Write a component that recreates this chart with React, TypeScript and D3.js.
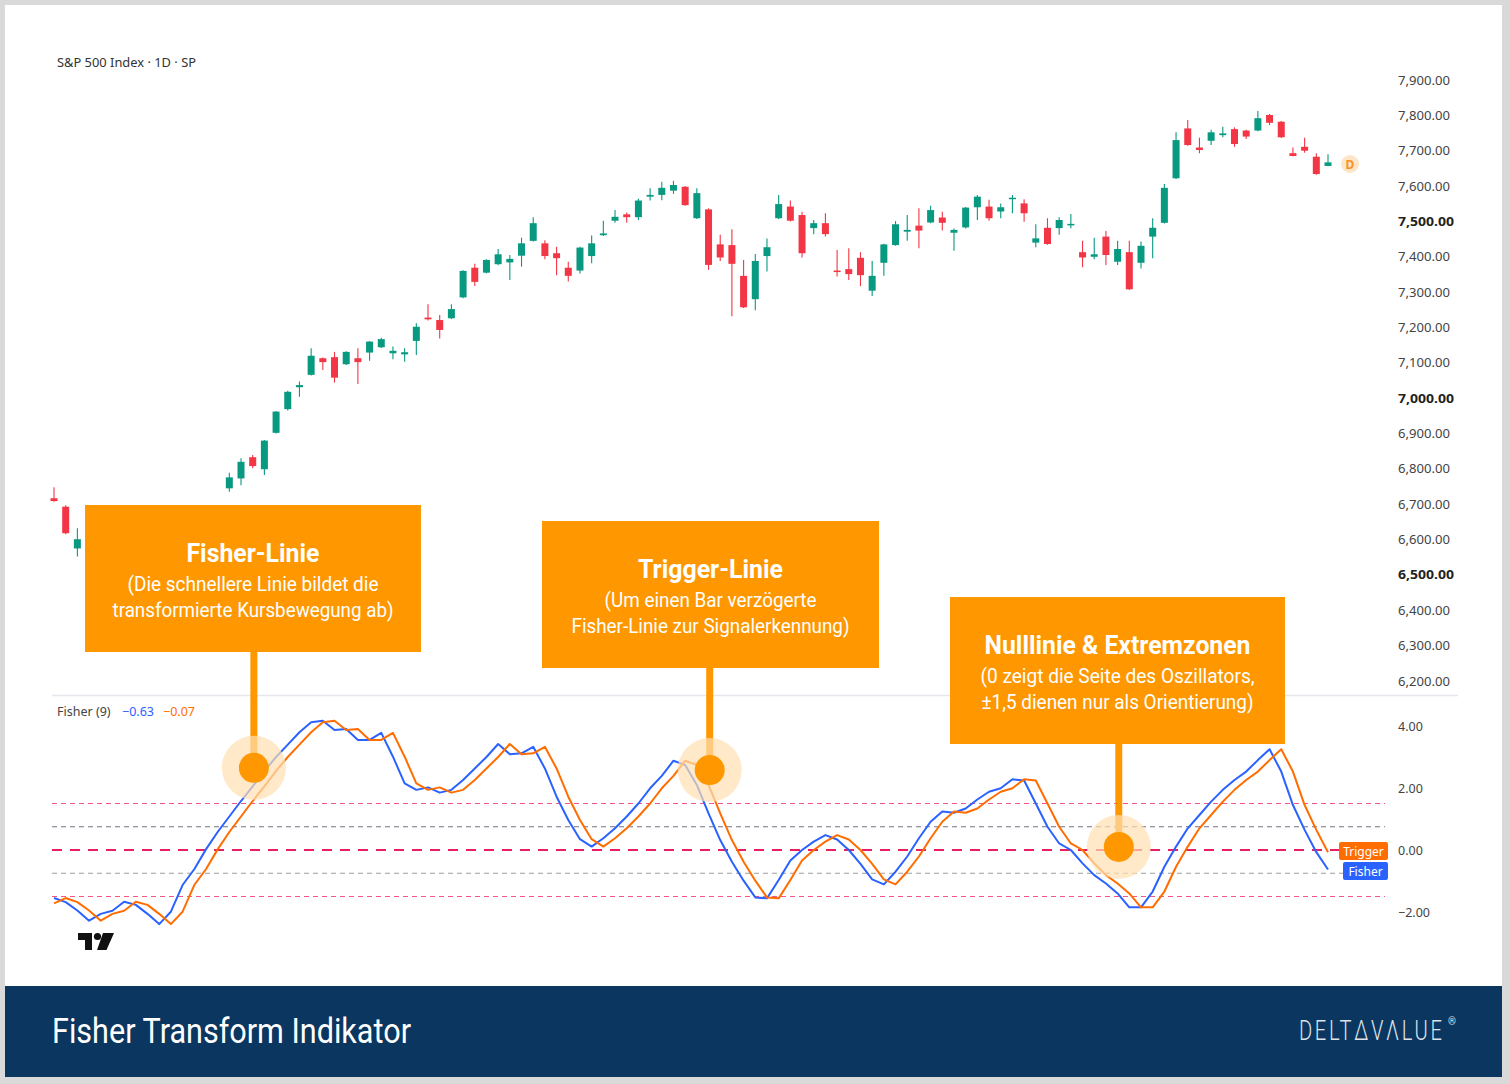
import React from 'react';
import * as d3 from 'd3';

// ---------- DATA ----------
const candleOpen = [6717,6693,6575,6598,6560,6585,6610,6630,6590,6545,6520,6575,6630,6660,6640,6745,6773,6833,6799,6902,6969,7031,7066,7113,7116,7096,7113,7129,7144,7127,7124,7162,7228,7221,7226,7285,7369,7355,7379,7384,7403,7445,7438,7410,7369,7361,7402,7461,7502,7520,7512,7570,7575,7587,7598,7509,7534,7435,7433,7346,7280,7402,7509,7542,7518,7481,7495,7361,7365,7397,7304,7383,7433,7471,7488,7497,7511,7468,7483,7540,7542,7528,7563,7551,7440,7482,7481,7489,7413,7400,7457,7386,7413,7383,7457,7496,7622,7763,7709,7728,7744,7761,7757,7757,7801,7782,7693,7711,7683,7657];
const candleHigh = [6748,6697,6632,6615,6600,6625,6650,6640,6600,6560,6590,6640,6675,6680,6688,6789,6830,6839,6882,6964,7021,7047,7141,7115,7131,7133,7141,7162,7171,7146,7141,7212,7266,7235,7266,7362,7380,7393,7422,7405,7454,7512,7447,7428,7386,7428,7460,7502,7532,7525,7564,7594,7612,7615,7600,7594,7537,7462,7478,7391,7408,7452,7575,7559,7527,7504,7523,7419,7424,7413,7388,7437,7501,7518,7537,7544,7527,7480,7541,7575,7561,7551,7575,7563,7492,7509,7512,7521,7445,7454,7473,7445,7445,7443,7509,7606,7752,7787,7737,7759,7768,7766,7759,7812,7804,7784,7709,7737,7693,7690];
const candleLow = [6707,6615,6552,6545,6540,6570,6595,6575,6530,6480,6505,6560,6615,6625,6630,6735,6754,6802,6783,6900,6965,7004,7064,7080,7044,7094,7040,7106,7142,7110,7103,7122,7220,7169,7224,7283,7317,7353,7376,7334,7372,7443,7393,7348,7330,7353,7382,7459,7496,7496,7504,7559,7560,7578,7544,7507,7363,7388,7232,7255,7249,7358,7507,7500,7398,7464,7457,7344,7334,7317,7289,7346,7431,7445,7424,7495,7474,7417,7480,7504,7502,7509,7523,7499,7427,7434,7462,7481,7370,7393,7377,7377,7306,7367,7396,7494,7620,7714,7693,7716,7738,7711,7733,7755,7773,7736,7684,7694,7632,7656];
const candleClose = [6709,6618,6601,6560,6585,6610,6630,6590,6545,6520,6575,6630,6660,6640,6680,6776,6820,6808,6880,6962,7018,7037,7120,7102,7058,7131,7102,7160,7167,7134,7130,7202,7223,7193,7252,7360,7329,7391,7407,7394,7438,7495,7402,7396,7346,7426,7438,7466,7513,7512,7559,7575,7595,7603,7546,7580,7377,7398,7380,7257,7388,7427,7549,7502,7410,7495,7464,7359,7351,7348,7346,7435,7492,7476,7474,7532,7496,7476,7539,7570,7509,7540,7567,7523,7452,7436,7504,7493,7398,7407,7405,7422,7308,7431,7482,7595,7730,7716,7702,7752,7749,7719,7740,7792,7779,7738,7685,7700,7634,7667];

const fisherValues = [-1.55,-1.68,-1.95,-2.28,-2.06,-1.96,-1.67,-1.77,-2.06,-2.39,-1.99,-1.13,-0.62,0.02,0.58,1.08,1.58,2.05,2.55,3.0,3.4,3.8,4.12,4.17,3.87,3.9,3.55,3.55,3.78,3.01,2.15,1.94,2.02,1.85,1.94,2.26,2.63,3.0,3.42,3.09,3.12,3.33,2.63,1.72,0.97,0.35,0.11,0.38,0.7,1.08,1.5,1.99,2.39,2.88,2.74,2.1,1.18,0.32,-0.38,-0.99,-1.53,-1.56,-0.97,-0.34,0.0,0.27,0.48,0.34,0.0,-0.45,-0.95,-1.11,-0.7,-0.21,0.38,0.91,1.24,1.2,1.34,1.63,1.88,1.99,2.28,2.24,1.5,0.75,0.21,0.0,-0.43,-0.81,-1.08,-1.4,-1.85,-1.85,-1.34,-0.54,0.11,0.7,1.13,1.56,1.94,2.26,2.53,2.9,3.25,2.53,1.45,0.65,-0.07,-0.63];
const triggerValues = [-1.72,-1.55,-1.68,-1.95,-2.28,-2.06,-1.96,-1.67,-1.77,-2.06,-2.39,-1.99,-1.13,-0.62,0.02,0.58,1.08,1.58,2.05,2.55,3.0,3.4,3.8,4.12,4.17,3.87,3.9,3.55,3.55,3.78,3.01,2.15,1.94,2.02,1.85,1.94,2.26,2.63,3.0,3.42,3.09,3.12,3.33,2.63,1.72,0.97,0.35,0.11,0.38,0.7,1.08,1.5,1.99,2.39,2.88,2.74,2.1,1.18,0.32,-0.38,-0.99,-1.53,-1.56,-0.97,-0.34,0.0,0.27,0.48,0.34,0.0,-0.45,-0.95,-1.11,-0.7,-0.21,0.38,0.91,1.24,1.2,1.34,1.63,1.88,1.99,2.28,2.24,1.5,0.75,0.21,0.0,-0.43,-0.81,-1.08,-1.4,-1.85,-1.85,-1.34,-0.54,0.11,0.7,1.13,1.56,1.94,2.26,2.53,2.9,3.25,2.53,1.45,0.65,-0.07];

const priceTicks = [7900,7800,7700,7600,7500,7400,7300,7200,7100,7000,6900,6800,6700,6600,6500,6400,6300,6200];
const boldPriceTicks = [7500,7000,6500];
const fisherTicks = [4,2,0,-2];
const fisherLevels = [1.5,0.75,0,-0.75,-1.5];

const chartTitle = 'S&P 500 Index · 1D · SP';
const legendName = 'Fisher (9)';
const legendFisher = -0.63;
const legendTrigger = -0.07;

const annoTitles = ['Fisher-Linie','Trigger-Linie','Nulllinie & Extremzonen'];
const annoLine1 = ['(Die schnellere Linie bildet die','(Um einen Bar verzögerte','(0 zeigt die Seite des Oszillators,'];
const annoLine2 = ['transformierte Kursbewegung ab)','Fisher-Linie zur Signalerkennung)','±1,5 dienen nur als Orientierung)'];
const annoBar = [17.1, 56.1, 91.1]; // bar position each annotation points at
const annoValue = [2.65, 2.58, 0.1]; // indicator value at the marker

const footerTitle = 'Fisher Transform Indikator';
const brand = 'DELTΔVΛLUE';

// ---------- LAYOUT / STYLE ----------
const W = 1510, H = 1084;
const GREEN = '#089981', RED = '#f23645';
const BLUE = '#2962ff', ORANGE = '#ff6d00';
const ANNO = '#ff9800';

const boxes = [
  { x: 85, y: 505, w: 336, h: 147, tw: 133, l1w: 251, l2w: 281 },
  { x: 542, y: 521, w: 337, h: 147, tw: 145, l1w: 212, l2w: 278 },
  { x: 950, y: 597, w: 335, h: 147, tw: 266, l1w: 274, l2w: 272 },
];

const levelStyle = [
  { c: '#f5568a', w: 1, d: '5 4' },
  { c: '#6f7284', w: 1, d: '5 4' },
  { c: '#e91e63', w: 2, d: '10 8' },
  { c: '#9e9e9e', w: 1, d: '5 4' },
  { c: '#f5568a', w: 1, d: '5 4' },
];

export default function App() {
  const xs = d3.scaleLinear().domain([0, candleOpen.length - 1]).range([54, 1328]);
  const yP = d3.scaleLinear().domain([6200, 7900]).range([681, 80]);
  const yF = d3.scaleLinear().domain([-2, 4]).range([912, 726]);
  const fmtP = d3.format(',.2f');
  const fmtF = d3.format('.2f');

  const line = d3.line<number>().x((_, i) => xs(i)).y((v) => yF(v));
  const bodyW = 7;
  const font = "'Noto Sans', 'Open Sans', sans-serif";
  const rob = "Roboto, sans-serif";
  const brandScale = 0.72;

  return (
    <svg width={W} height={H} style={{ position: 'absolute', left: 0, top: 0, display: 'block' }}>
      <rect x={0} y={0} width={W} height={H} fill="#d9d9d9" />
      <rect x={5} y={5} width={1497} height={1072} fill="#ffffff" />

      {/* header */}
      <text x={57} y={67} fontFamily={font} fontSize={12} fill="#333" textLength={139} lengthAdjust="spacingAndGlyphs">{chartTitle}</text>

      {/* price axis */}
      {priceTicks.map((p) => (
        <text key={p} x={1398} y={yP(p) + 4.5} fontFamily={font} fontSize={12.5}
          fontWeight={boldPriceTicks.includes(p) ? 700 : 400}
          fill={boldPriceTicks.includes(p) ? '#222' : '#444'}
          textLength={boldPriceTicks.includes(p) ? 56 : 52} lengthAdjust="spacingAndGlyphs">{fmtP(p)}</text>
      ))}

      {/* candles */}
      {candleOpen.map((o, i) => {
        const c = candleClose[i];
        const col = c >= o ? GREEN : RED;
        const x = xs(i);
        const top = yP(Math.max(o, c));
        const bot = yP(Math.min(o, c));
        return (
          <g key={i}>
            <line x1={x} x2={x} y1={yP(candleHigh[i])} y2={yP(candleLow[i])} stroke={col} strokeWidth={1.1} />
            <rect x={x - bodyW / 2} y={top} width={bodyW} height={Math.max(1.5, bot - top)} fill={col} />
          </g>
        );
      })}

      {/* D badge */}
      <circle cx={1350} cy={164} r={9} fill="#fde5c8" />
      <text x={1350} y={168.5} textAnchor="middle" fontFamily={font} fontWeight={700} fontSize={12} fill="#f7931e">D</text>

      {/* pane separator */}
      <line x1={52} x2={1458} y1={695.5} y2={695.5} stroke="#e6e8ee" strokeWidth={1.5} />

      {/* fisher legend */}
      <text x={57} y={716} fontFamily={font} fontSize={12.5} fill="#444">
        <tspan>{legendName}</tspan>
        <tspan x={122} fill={BLUE}>{fmtF(legendFisher)}</tspan>
        <tspan x={163} fill={ORANGE}>{fmtF(legendTrigger)}</tspan>
      </text>

      {/* fisher axis */}
      {fisherTicks.map((t) => (
        <text key={t} x={1398} y={yF(t) + 4.5} fontFamily={font} fontSize={12.5} fill="#444">{fmtF(t)}</text>
      ))}

      {/* levels */}
      {fisherLevels.map((lv, i) => (
        <line key={lv} x1={52} x2={1385} y1={yF(lv)} y2={yF(lv)} stroke={levelStyle[i].c}
          strokeWidth={levelStyle[i].w} strokeDasharray={levelStyle[i].d} />
      ))}

      {/* fisher lines */}
      <path d={line(fisherValues) || ''} fill="none" stroke={BLUE} strokeWidth={2} strokeLinejoin="round" />
      <path d={line(triggerValues) || ''} fill="none" stroke={ORANGE} strokeWidth={2} strokeLinejoin="round" />

      {/* end labels */}
      <rect x={1339} y={842} width={49} height={18} rx={2} fill={ORANGE} />
      <text x={1363.5} y={855.5} textAnchor="middle" fontFamily={font} fontSize={12} fill="#fff">Trigger</text>
      <rect x={1343} y={862} width={45} height={18} rx={2} fill={BLUE} />
      <text x={1365.5} y={875.5} textAnchor="middle" fontFamily={font} fontSize={12} fill="#fff">Fisher</text>

      {/* TV logo */}
      <g fill="#111">
        <path d="M78,933 H92 V950 H85 V940 H78 Z" />
        <circle cx={97.5} cy={936.5} r={3.6} />
        <path d="M103,933 H114 L106.5,950 H97 Z" />
      </g>

      {/* annotations */}
      {boxes.map((b, i) => {
        const cx = b.x + b.w / 2;
        const mx = xs(annoBar[i]);
        const my = yF(annoValue[i]);
        return (
          <g key={i}>
            <rect x={b.x} y={b.y} width={b.w} height={b.h} fill={ANNO} />
            <text x={cx} y={b.y + 57} textAnchor="middle" fontFamily={rob} fontWeight={700} fontSize={26}
              fill="#fff" textLength={b.tw} lengthAdjust="spacingAndGlyphs">{annoTitles[i]}</text>
            <text x={cx} y={b.y + 86} textAnchor="middle" fontFamily={rob} fontSize={20}
              fill="#fff" textLength={b.l1w} lengthAdjust="spacingAndGlyphs">{annoLine1[i]}</text>
            <text x={cx} y={b.y + 112} textAnchor="middle" fontFamily={rob} fontSize={20}
              fill="#fff" textLength={b.l2w} lengthAdjust="spacingAndGlyphs">{annoLine2[i]}</text>
            <line x1={mx} x2={mx} y1={b.y + b.h} y2={my} stroke={ANNO} strokeWidth={7} />
            <circle cx={mx} cy={my} r={32} fill="#ffe0b2" fillOpacity={0.7} />
            <circle cx={mx} cy={my} r={15} fill={ANNO} />
          </g>
        );
      })}

      {/* footer */}
      <rect x={5} y={986} width={1497} height={91} fill="#0a3660" />
      <text x={52} y={1043} fontFamily={rob} fontSize={35} fill="#fff" textLength={359}
        lengthAdjust="spacingAndGlyphs">{footerTitle}</text>
      <g transform={`translate(1299,1040) scale(${brandScale},1)`}>
        <text x={0} y={0} fontFamily={rob} fontWeight={300} fontSize={28} fill="#dfe3e8"
          textLength={143 / brandScale} lengthAdjust="spacing">{brand}</text>
      </g>
      <text x={1448} y={1025} fontFamily={rob} fontSize={10} fill="#dfe3e8">®</text>
    </svg>
  );
}
